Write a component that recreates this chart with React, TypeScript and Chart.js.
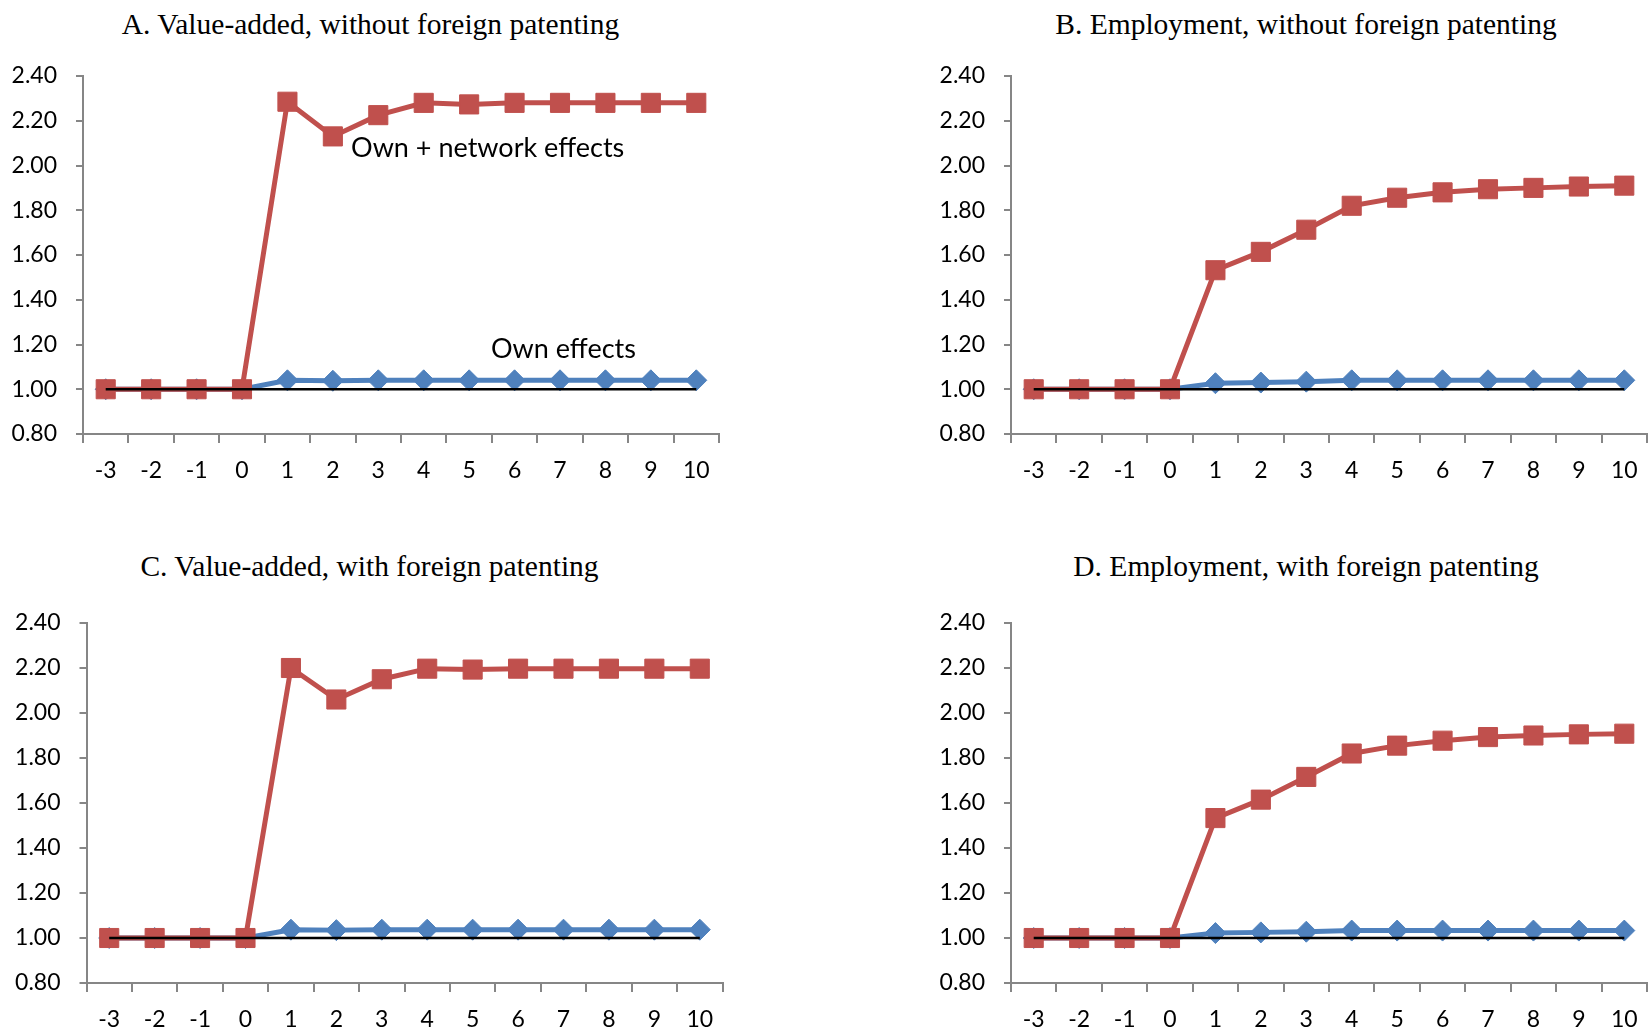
import React, { useEffect, useRef } from 'react';
import { Chart, registerables } from 'chart.js';

Chart.register(...registerables);

// ---------- data ----------
const periods = ['-3', '-2', '-1', '0', '1', '2', '3', '4', '5', '6', '7', '8', '9', '10'];
const baseline = [1, 1, 1, 1, 1, 1, 1, 1, 1, 1, 1, 1, 1, 1];

const ownNetworkA = [1.0, 1.0, 1.0, 1.0, 2.285, 2.13, 2.225, 2.28, 2.273, 2.28, 2.28, 2.28, 2.28, 2.28];
const ownA = [1.0, 1.0, 1.0, 1.0, 1.04, 1.038, 1.04, 1.04, 1.04, 1.04, 1.04, 1.04, 1.04, 1.04];

const ownNetworkB = [1.0, 1.0, 1.0, 1.0, 1.532, 1.614, 1.713, 1.82, 1.856, 1.88, 1.894, 1.9, 1.906, 1.91];
const ownB = [1.0, 1.0, 1.0, 1.0, 1.027, 1.03, 1.034, 1.04, 1.04, 1.04, 1.04, 1.04, 1.04, 1.04];

const ownNetworkC = [1.0, 1.0, 1.0, 1.0, 2.2, 2.06, 2.15, 2.197, 2.193, 2.197, 2.197, 2.197, 2.197, 2.197];
const ownC = [1.0, 1.0, 1.0, 1.0, 1.037, 1.035, 1.037, 1.037, 1.037, 1.037, 1.037, 1.037, 1.037, 1.037];

const ownNetworkD = [1.0, 1.0, 1.0, 1.0, 1.533, 1.615, 1.716, 1.82, 1.855, 1.877, 1.893, 1.9, 1.905, 1.908];
const ownD = [1.0, 1.0, 1.0, 1.0, 1.022, 1.025, 1.028, 1.033, 1.033, 1.033, 1.033, 1.033, 1.033, 1.033];

const titleA = 'A. Value-added, without foreign patenting';
const titleB = 'B. Employment, without foreign patenting';
const titleC = 'C. Value-added, with foreign patenting';
const titleD = 'D. Employment, with foreign patenting';

const noteOwnNetwork = 'Own + network effects';
const noteOwn = 'Own effects';

// ---------- styles ----------
const RED = '#C0504D';
const BLUE = '#4F81BD';
const AXIS = '#868686';
const TICK_FONT = { family: 'Lato, "Open Sans", sans-serif', size: 23 };
const NOTE_FONT = '27px Lato, "Open Sans", sans-serif';

const notesPlugin = {
  id: 'notes',
  afterDatasetsDraw(chart: any, _args: any, opts: any) {
    const items = (opts && opts.items) || [];
    if (!items.length) return;
    const ctx = chart.ctx;
    ctx.save();
    ctx.font = NOTE_FONT;
    ctx.fillStyle = '#000';
    ctx.textAlign = 'left';
    ctx.textBaseline = 'middle';
    items.forEach((n: any) => {
      ctx.fillText(n.text, chart.scales.x.getPixelForValue(n.x), chart.scales.y.getPixelForValue(n.y));
    });
    ctx.restore();
  },
};

type PanelProps = {
  left: number;
  top: number;
  width: number;
  height: number;
  yAxisWidth: number;
  padTop: number;
  padRight: number;
  xAxisHeight: number;
  ownNet: number[];
  own: number[];
  notes?: { text: string; x: number; y: number }[];
};

function Panel(p: PanelProps) {
  const ref = useRef<HTMLCanvasElement | null>(null);
  useEffect(() => {
    if (!ref.current) return;
    const chart = new Chart(ref.current, {
      type: 'line',
      data: {
        labels: periods,
        datasets: [
          {
            label: 'Baseline',
            data: baseline,
            borderColor: '#000000',
            borderWidth: 2.5,
            pointRadius: 0,
            fill: false,
          },
          {
            label: 'Own + network effects',
            data: p.ownNet,
            borderColor: RED,
            backgroundColor: RED,
            borderWidth: 5,
            pointStyle: 'rect',
            pointRadius: 13.5,
            pointBorderWidth: 1,
            pointBackgroundColor: RED,
            pointBorderColor: RED,
            fill: false,
          },
          {
            label: 'Own effects',
            data: p.own,
            borderColor: BLUE,
            backgroundColor: BLUE,
            borderWidth: 5,
            pointStyle: 'rectRot',
            pointRadius: 10.5,
            pointBorderWidth: 1,
            pointBackgroundColor: BLUE,
            pointBorderColor: BLUE,
            fill: false,
          },
        ],
      },
      options: {
        responsive: false,
        animation: false,
        devicePixelRatio: 1,
        events: [],
        layout: {
          autoPadding: false,
          padding: { left: 0, top: p.padTop, right: p.padRight, bottom: 0 },
        },
        elements: { line: { tension: 0 } },
        plugins: {
          legend: { display: false },
          tooltip: { enabled: false },
          title: { display: false },
          notes: { items: p.notes || [] },
        } as any,
        scales: {
          x: {
            type: 'category',
            offset: true,
            grid: {
              offset: true,
              drawOnChartArea: false,
              drawTicks: true,
              tickLength: 9,
              color: AXIS,
              lineWidth: 2,
            },
            border: { display: true, color: AXIS, width: 2 },
            ticks: {
              font: TICK_FONT,
              color: '#000',
              padding: 14,
              maxRotation: 0,
              autoSkip: false,
            },
            afterFit: (s: any) => {
              s.height = p.xAxisHeight;
              s.paddingLeft = 0;
              s.paddingRight = 0;
              s.paddingTop = 0;
              s.paddingBottom = 0;
            },
          },
          y: {
            type: 'linear',
            min: 0.8,
            max: 2.4,
            grid: {
              drawOnChartArea: false,
              drawTicks: true,
              tickLength: 7,
              color: AXIS,
              lineWidth: 2,
            },
            border: { display: true, color: AXIS, width: 2 },
            ticks: {
              stepSize: 0.2,
              font: TICK_FONT,
              color: '#000',
              padding: 19,
              callback: (v: any) => Number(v).toFixed(2),
            },
            afterFit: (s: any) => {
              s.width = p.yAxisWidth;
              s.paddingLeft = 0;
              s.paddingRight = 0;
              s.paddingTop = 0;
              s.paddingBottom = 0;
            },
          },
        },
      } as any,
      plugins: [notesPlugin],
    });
    return () => chart.destroy();
  }, []);
  return (
    <canvas
      ref={ref}
      width={p.width}
      height={p.height}
      style={{ position: 'absolute', left: p.left, top: p.top, width: p.width, height: p.height }}
    />
  );
}

function Title({ text, center, top }: { text: string; center: number; top: number }) {
  const w = 680;
  return (
    <div
      style={{
        position: 'absolute',
        left: center - w / 2,
        top,
        width: w,
        textAlign: 'center',
        fontFamily: '"Liberation Serif", "Times New Roman", serif',
        fontSize: 29.5,
        lineHeight: '33px',
        color: '#000',
        whiteSpace: 'nowrap',
      }}
    >
      {text}
    </div>
  );
}

export default function App() {
  return (
    <div
      style={{
        position: 'absolute',
        left: 0,
        top: 0,
        width: 1648,
        height: 1031,
        background: '#fff',
        overflow: 'hidden',
      }}
    >
      <Title text={titleA} center={370.5} top={8} />
      <Title text={titleB} center={1306} top={8} />
      <Title text={titleC} center={369.5} top={550} />
      <Title text={titleD} center={1306} top={550} />

      <Panel
        left={0}
        top={0}
        width={740}
        height={510}
        yAxisWidth={83}
        padTop={76}
        padRight={21}
        xAxisHeight={76}
        ownNet={ownNetworkA}
        own={ownA}
        notes={[
          { text: noteOwnNetwork, x: 5.4, y: 2.077 },
          { text: noteOwn, x: 8.48, y: 1.178 },
        ]}
      />
      <Panel
        left={920}
        top={0}
        width={728}
        height={510}
        yAxisWidth={91}
        padTop={76}
        padRight={1}
        xAxisHeight={76}
        ownNet={ownNetworkB}
        own={ownB}
      />
      <Panel
        left={0}
        top={520}
        width={740}
        height={511}
        yAxisWidth={86.5}
        padTop={103}
        padRight={17.5}
        xAxisHeight={48}
        ownNet={ownNetworkC}
        own={ownC}
      />
      <Panel
        left={920}
        top={520}
        width={728}
        height={511}
        yAxisWidth={91}
        padTop={103}
        padRight={1}
        xAxisHeight={48}
        ownNet={ownNetworkD}
        own={ownD}
      />
    </div>
  );
}
